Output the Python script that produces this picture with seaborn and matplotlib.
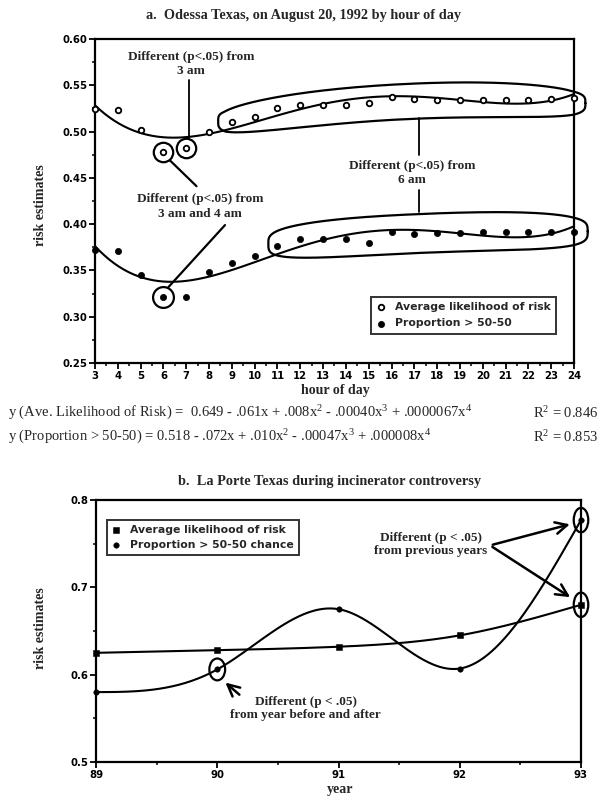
import matplotlib
matplotlib.use("Agg")
import matplotlib.pyplot as plt
import matplotlib.ticker as mticker
from matplotlib.patches import Ellipse
import numpy as np
import seaborn as sns

# ---------------------------------------------------------------------------
# Data
# ---------------------------------------------------------------------------
hours = [3, 4, 5, 6, 7, 8, 9, 10, 11, 12, 13, 14, 15, 16, 17, 18, 19, 20, 21, 22, 23, 24]
ave_likelihood = [0.524, 0.523, 0.502, 0.478, 0.482, 0.499, 0.510, 0.516, 0.526, 0.529,
                  0.529, 0.529, 0.531, 0.537, 0.535, 0.534, 0.534, 0.534, 0.534, 0.534,
                  0.535, 0.536]
prop_over_5050 = [0.372, 0.371, 0.345, 0.321, 0.321, 0.348, 0.358, 0.366, 0.376, 0.384,
                  0.384, 0.384, 0.380, 0.392, 0.389, 0.390, 0.390, 0.391, 0.391, 0.391,
                  0.391, 0.392]

years = [89, 90, 91, 92, 93]
ave_likelihood_b = [0.625, 0.628, 0.632, 0.645, 0.680]
prop_chance_b = [0.580, 0.606, 0.675, 0.607, 0.777]

eq_ave = (r"y (Ave. Likelihood of Risk) =  0.649 - .061x + .008x$^{2}$ - .00040x$^{3}$"
          r" + .0000067x$^{4}$")
eq_prop = (r"y (Proportion > 50-50) = 0.518 - .072x + .010x$^{2}$ - .00047x$^{3}$"
           r" + .000008x$^{4}$")
r2_ave = r"R$^{2}$ = 0.846"
r2_prop = r"R$^{2}$ = 0.853"

# ---------------------------------------------------------------------------
# Style
# ---------------------------------------------------------------------------
sns.set_theme(style="ticks")
plt.rcParams.update({
    "font.family": ["Liberation Serif", "DejaVu Serif"],
    "mathtext.fontset": "custom",
    "mathtext.rm": "Liberation Serif",
    "mathtext.it": "Liberation Serif:italic",
    "axes.linewidth": 1.5,
    "axes.edgecolor": "black",
    "xtick.color": "black",
    "ytick.color": "black",
})
TICKS = dict(family="DejaVu Sans", weight="bold", size=7.3)
LEGEND = dict(family="DejaVu Sans", weight="bold", size=7.8)
ANN = dict(family="Liberation Serif", weight="bold", size=9.5)
INK = "black"


def natural_spline(x, y, n=300):
    x = np.asarray(x, float)
    y = np.asarray(y, float)
    h = np.diff(x)
    k = len(x)
    A = np.zeros((k, k))
    r = np.zeros(k)
    A[0, 0] = A[-1, -1] = 1
    for i in range(1, k - 1):
        A[i, i - 1] = h[i - 1]
        A[i, i] = 2 * (h[i - 1] + h[i])
        A[i, i + 1] = h[i]
        r[i] = 6 * ((y[i + 1] - y[i]) / h[i] - (y[i] - y[i - 1]) / h[i - 1])
    M = np.linalg.solve(A, r)
    xs = np.linspace(x[0], x[-1], n)
    idx = np.clip(np.searchsorted(x, xs) - 1, 0, k - 2)
    x0, x1 = x[idx], x[idx + 1]
    hh = x1 - x0
    a = (x1 - xs) / hh
    b = (xs - x0) / hh
    ys = (a * y[idx] + b * y[idx + 1]
          + ((a ** 3 - a) * M[idx] + (b ** 3 - b) * M[idx + 1]) * hh ** 2 / 6)
    return xs, ys


def loop(ax, xs, ys, x0, x1, half, shift=0.0):
    # sausage-shaped outline following the trend of the enclosed points
    xs = np.asarray(xs, float)
    ys = np.asarray(ys, float)
    coef = np.polyfit(xs, ys, 2)
    t = np.linspace(0, 2 * np.pi, 500)
    c, s = np.cos(t), np.sin(t)
    xm, a = (x0 + x1) / 2, (x1 - x0) / 2
    px = xm + a * np.sign(c) * np.abs(c) ** 0.55
    py = np.polyval(coef, np.clip(px, xs.min() - 0.3, xs.max())) + shift \
        + half * np.sign(s) * np.abs(s) ** 0.55
    ax.plot(px, py, color=INK, lw=1.6, clip_on=False)


def style_axes(ax):
    for sp in ax.spines.values():
        sp.set_visible(True)
        sp.set_linewidth(1.6)
    ax.tick_params(which="major", direction="out", length=4, width=1.3, pad=1.5,
                   top=False, right=False)
    ax.tick_params(which="minor", direction="out", length=2.5, width=1.1,
                   top=False, right=False)
    for lab in ax.get_xticklabels() + ax.get_yticklabels():
        lab.set_fontproperties(TICKS)


fig = plt.figure(figsize=(6.08, 7.99), dpi=100)

# ---------------------------------------------------------------------------
# Panel a — Odessa
# ---------------------------------------------------------------------------
ax = fig.add_axes([95 / 608, 1 - 363 / 799, (574 - 95) / 608, (363 - 39) / 799])

sns.regplot(x=hours, y=ave_likelihood, order=4, ci=None, scatter=False, ax=ax,
            line_kws=dict(color=INK, lw=1.5))
sns.regplot(x=hours, y=prop_over_5050, order=4, ci=None, scatter=False, ax=ax,
            line_kws=dict(color=INK, lw=1.5))
sns.scatterplot(x=hours, y=ave_likelihood, marker="o", s=16, color="white",
                edgecolor=INK, linewidth=1.3, ax=ax, clip_on=False, zorder=4,
                label="Average likelihood of risk")
sns.scatterplot(x=hours, y=prop_over_5050, marker="o", s=20, color=INK,
                edgecolor=INK, linewidth=0.5, ax=ax, clip_on=False, zorder=4,
                label="Proportion > 50-50")

ax.set_xlim(3, 24)
ax.set_ylim(0.25, 0.60)
ax.xaxis.set_major_locator(mticker.MultipleLocator(1))
ax.xaxis.set_minor_locator(mticker.MultipleLocator(0.5))
ax.yaxis.set_major_locator(mticker.MultipleLocator(0.05))
ax.yaxis.set_minor_locator(mticker.MultipleLocator(0.025))
ax.yaxis.set_major_formatter(mticker.FormatStrFormatter("%.2f"))
ax.set_xlabel("")
ax.set_ylabel("")
style_axes(ax)

leg = ax.legend(loc="lower right", bbox_to_anchor=(0.962, 0.09), frameon=True,
                fancybox=False, prop=LEGEND, handletextpad=0.9, borderpad=0.5,
                labelspacing=0.6, handlelength=0.8, borderaxespad=0)
leg.get_frame().set_edgecolor(INK)
leg.get_frame().set_linewidth(1.4)

# circled points at 6 and 7 am
ax.plot(hours[3:5], ave_likelihood[3:5], ls="none", marker="o", ms=14,
        mfc="none", mec=INK, mew=1.6)
ax.plot(hours[3:4], prop_over_5050[3:4], ls="none", marker="o", ms=15,
        mfc="none", mec=INK, mew=1.6)

# loops around points different from 6 am
loop(ax, hours[6:], ave_likelihood[6:], 8.4, 24.5, 0.019, shift=-0.002)
loop(ax, hours[8:], prop_over_5050[8:], 10.6, 24.6, 0.021, shift=0.001)

ax.text(7.2, 0.573, "Different (p<.05) from\n3 am", ha="center", va="center",
        linespacing=1.25, **ANN)
ax.plot([7.1, 7.1], [0.556, 0.493], color=INK, lw=1.3)

ax.text(7.6, 0.419, "Different (p<.05) from\n3 am and 4 am", ha="center",
        va="center", linespacing=1.25, **ANN)
ax.plot([6.28, 7.45], [0.469, 0.441], color=INK, lw=1.6)
ax.plot([8.7, 6.22], [0.399, 0.332], color=INK, lw=1.6)

ax.text(16.9, 0.455, "Different (p<.05) from\n6 am", ha="center", va="center",
        linespacing=1.25, **ANN)
ax.plot([17.2, 17.2], [0.515, 0.475], color=INK, lw=1.3)
ax.plot([17.2, 17.2], [0.437, 0.413], color=INK, lw=1.3)

fig.text(303 / 608, 1 - 15 / 799, "a.  Odessa Texas, on August 20, 1992 by hour of day",
         ha="center", va="center", family="Liberation Serif", weight="bold", size=10.3)
fig.text(335 / 608, 1 - 391 / 799, "hour of day", ha="center", va="center",
         family="Liberation Serif", weight="bold", size=10)
fig.text(40 / 608, 1 - 205 / 799, "risk estimates", ha="center", va="center",
         rotation=90, family="Liberation Serif", weight="bold", size=10)

fig.text(8 / 608, 1 - 413 / 799, eq_ave, ha="left", va="center",
         family="Liberation Serif", size=10.5)
fig.text(8 / 608, 1 - 437 / 799, eq_prop, ha="left", va="center",
         family="Liberation Serif", size=10.5)
fig.text(598 / 608, 1 - 413 / 799, r2_ave, ha="right", va="center",
         family="Liberation Serif", size=10.5)
fig.text(598 / 608, 1 - 437 / 799, r2_prop, ha="right", va="center",
         family="Liberation Serif", size=10.5)

# ---------------------------------------------------------------------------
# Panel b — La Porte
# ---------------------------------------------------------------------------
bx = fig.add_axes([96 / 608, 1 - 762 / 799, (581 - 96) / 608, (762 - 500) / 799])

xs, ys = natural_spline(years, ave_likelihood_b)
bx.plot(xs, ys, color=INK, lw=1.5, clip_on=False)
xs, ys = natural_spline(years, prop_chance_b)
bx.plot(xs, ys, color=INK, lw=1.5, clip_on=False)

sns.scatterplot(x=years, y=ave_likelihood_b, marker="s", s=22, color=INK,
                edgecolor=INK, ax=bx, clip_on=False, zorder=4,
                label="Average likelihood of risk")
sns.scatterplot(x=years, y=prop_chance_b, marker="o", s=16, color=INK,
                edgecolor=INK, ax=bx, clip_on=False, zorder=4,
                label="Proportion > 50-50 chance")

bx.set_xlim(89, 93)
bx.set_ylim(0.5, 0.8)
bx.xaxis.set_major_locator(mticker.MultipleLocator(1))
bx.xaxis.set_minor_locator(mticker.MultipleLocator(0.5))
bx.yaxis.set_major_locator(mticker.MultipleLocator(0.1))
bx.yaxis.set_minor_locator(mticker.MultipleLocator(0.05))
bx.yaxis.set_major_formatter(mticker.FormatStrFormatter("%.1f"))
bx.set_xlabel("")
bx.set_ylabel("")
style_axes(bx)

leg = bx.legend(loc="upper left", bbox_to_anchor=(0.023, 0.925), frameon=True,
                fancybox=False, prop=LEGEND, handletextpad=0.9, borderpad=0.45,
                labelspacing=0.5, handlelength=0.8, borderaxespad=0)
leg.get_frame().set_edgecolor(INK)
leg.get_frame().set_linewidth(1.4)

for (cx, cy), w, hgt in [((93, prop_chance_b[4]), 0.12, 0.028),
                         ((93, ave_likelihood_b[4]), 0.12, 0.028),
                         ((90, prop_chance_b[1]), 0.13, 0.025)]:
    bx.add_patch(Ellipse((cx, cy), w, hgt, fill=False, ec=INK, lw=1.6,
                         clip_on=False, zorder=5))

bx.text(91.76, 0.749, "Different (p < .05)\nfrom previous years", ha="center",
        va="center", linespacing=1.15, **ANN)
arrow = dict(arrowstyle="->,head_length=0.7,head_width=0.35", color=INK, lw=1.8)
bx.annotate("", xy=(92.93, 0.773), xytext=(92.25, 0.748), arrowprops=arrow)
bx.annotate("", xy=(92.93, 0.687), xytext=(92.25, 0.748), arrowprops=arrow)

bx.text(90.73, 0.561, "Different (p < .05)\nfrom year before and after", ha="center",
        va="center", linespacing=1.15, **ANN)
bx.annotate("", xy=(90.05, 0.593), xytext=(90.2, 0.575), arrowprops=arrow)

fig.text(330 / 608, 1 - 481 / 799, "b.  La Porte Texas during incinerator controversy",
         ha="center", va="center", family="Liberation Serif", weight="bold", size=10.3)
fig.text(340 / 608, 1 - 789 / 799, "year", ha="center", va="center",
         family="Liberation Serif", weight="bold", size=10)
fig.text(40 / 608, 1 - 628 / 799, "risk estimates", ha="center", va="center",
         rotation=90, family="Liberation Serif", weight="bold", size=10)

fig.savefig("out.png", dpi=100, facecolor="white")
